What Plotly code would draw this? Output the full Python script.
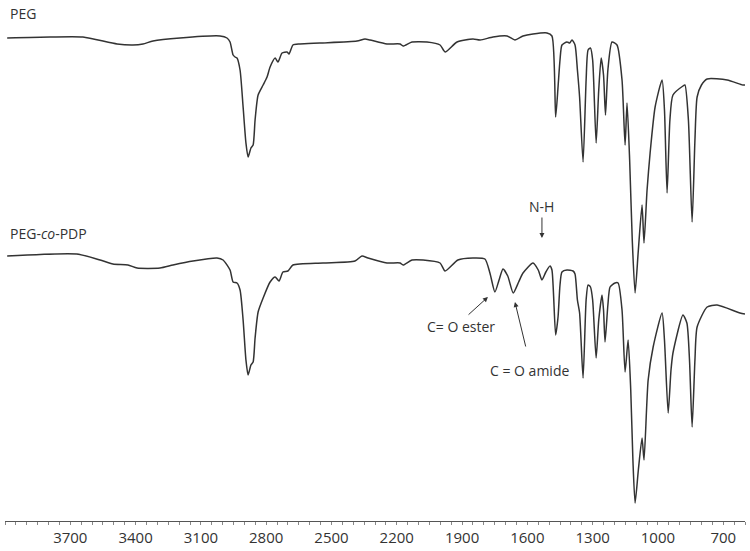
import plotly.graph_objects as go

# Wavenumbers (cm-1) and relative transmittance (a.u.)
peg_wn = [3990, 3793, 3642, 3485, 3412, 3366, 3320, 3196, 3012, 2980, 2966, 2952, 2943, 2934, 2920,
          2906, 2893, 2883, 2870, 2860, 2851, 2837, 2814, 2796, 2782, 2759, 2746, 2727, 2704, 2695,
          2677, 2645, 2553, 2383, 2346, 2323, 2245, 2185, 2171, 2130, 2061, 2001, 1978, 1923, 1850,
          1817, 1758, 1693, 1657, 1620, 1574, 1510, 1487, 1470, 1459, 1450, 1441, 1418, 1405, 1395,
          1381, 1370, 1360, 1344, 1330, 1321, 1310, 1300, 1284, 1272, 1261, 1250, 1241, 1230, 1211,
          1188, 1165, 1151, 1142, 1130, 1118, 1105, 1090, 1073, 1064, 1050, 1036, 1013, 981, 970,
          958, 945, 931, 885, 876, 860, 843, 830, 820, 800, 774, 682, 610, 600]
peg_t = [483, 484, 484, 477, 476, 477, 480, 483, 485, 483, 479, 466, 464, 463, 451,
         414, 378, 364, 373, 376, 401, 426, 436, 444, 454, 463, 459, 468, 469, 467,
         476, 477, 478, 480, 482, 481, 477, 477, 475, 479, 479, 476, 469, 479, 482,
         481, 484, 485, 481, 485, 487, 488, 485, 404, 434, 461, 476, 479, 478, 481,
         476, 451, 424, 359, 441, 471, 473, 461, 378, 431, 463, 446, 406, 451, 479,
         476, 441, 376, 418, 361, 281, 228, 271, 316, 278, 331, 368, 414, 441, 411,
         328, 401, 426, 435, 436, 401, 299, 381, 424, 436, 442, 441, 436, 436]

pdp_wn = [3990, 3670, 3563, 3504, 3435, 3393, 3288, 3228, 3136, 3026, 2998, 2966, 2952, 2934, 2920,
          2906, 2893, 2883, 2870, 2860, 2851, 2837, 2814, 2782, 2759, 2741, 2723, 2700, 2677, 2539,
          2392, 2360, 2332, 2245, 2185, 2171, 2130, 2079, 2001, 1978, 1919, 1850, 1795, 1772, 1749,
          1730, 1712, 1690, 1665, 1640, 1620, 1574, 1550, 1533, 1515, 1496, 1487, 1470, 1459, 1450,
          1441, 1418, 1390, 1381, 1370, 1360, 1344, 1330, 1321, 1310, 1300, 1284, 1272, 1257, 1250,
          1243, 1230, 1220, 1197, 1183, 1165, 1151, 1137, 1125, 1115, 1105, 1090, 1073, 1064, 1045,
          1022, 981, 970, 953, 940, 931, 885, 867, 855, 843, 830, 820, 774, 728, 623, 600]
pdp_t = [265, 267, 261, 257, 256, 253, 253, 256, 260, 263, 261, 251, 239, 238, 231,
         201, 161, 146, 156, 159, 183, 209, 223, 239, 244, 240, 249, 250, 256, 258,
         260, 265, 263, 258, 258, 256, 261, 261, 258, 250, 261, 263, 262, 248, 229,
         241, 252, 245, 228, 239, 248, 258, 251, 241, 249, 255, 251, 186, 204, 236,
         249, 251, 250, 247, 221, 208, 143, 221, 236, 234, 221, 163, 201, 226, 211,
         179, 216, 234, 238, 238, 211, 149, 181, 131, 61, 18, 51, 83, 61, 141,
         174, 208, 181, 108, 151, 168, 206, 198, 161, 94, 161, 194, 214, 216, 208, 207]

tick_vals = list(range(600, 4001, 50))
label_vals = [3700, 3400, 3100, 2800, 2500, 2200, 1900, 1600, 1300, 1000, 700]

LINE = "#333333"
FONT = "Open Sans"

fig = go.Figure()
fig.add_trace(go.Scatter(x=peg_wn, y=peg_t, mode="lines", name="PEG",
                         line=dict(color=LINE, width=1.5, shape="spline", smoothing=0.6)))
fig.add_trace(go.Scatter(x=pdp_wn, y=pdp_t, mode="lines", name="PEG-co-PDP",
                         line=dict(color=LINE, width=1.5, shape="spline", smoothing=0.6)))

fig.update_layout(
    width=750, height=551,
    margin=dict(l=5, r=5, t=0, b=30),
    paper_bgcolor="white", plot_bgcolor="white",
    showlegend=False,
    font=dict(family=FONT, size=14, color="#333"),
    xaxis=dict(range=[4000, 600], showgrid=False, zeroline=False,
               showline=True, linecolor="#555", linewidth=1,
               tickmode="array", tickvals=tick_vals,
               ticktext=[str(v) if v in label_vals else "" for v in tick_vals],
               ticks="outside", ticklen=3, tickcolor="#888", tickwidth=1,
               tickfont=dict(family=FONT, size=15, color="#333")),
    yaxis=dict(range=[0, 521], visible=False, fixedrange=True),
)

ann = [
    dict(x=3986, y=508, text="PEG", xanchor="left"),
    dict(x=3986, y=288, text="PEG-<i>co</i>-PDP", xanchor="left"),
    dict(x=1535, y=315, text="N-H", xanchor="center"),
    dict(x=1905, y=195, text="C= O ester", xanchor="center"),
    dict(x=1592, y=151, text="C = O amide", xanchor="center"),
]
for a in ann:
    fig.add_annotation(xref="x", yref="y", showarrow=False, yanchor="middle",
                       font=dict(family=FONT, size=14, color="#333"), **a)

arrows = [
    (1533, 283, 1533, 305),
    (1781, 224, 1877, 205),
    (1657, 219, 1606, 173),
]
for hx, hy, tx, ty in arrows:
    fig.add_annotation(x=hx, y=hy, ax=tx, ay=ty, xref="x", yref="y", axref="x", ayref="y",
                       text="", showarrow=True, arrowhead=2, arrowsize=1, arrowwidth=1,
                       arrowcolor="#333")

fig.write_html("out.html",
               config={"displayModeBar": False, "staticPlot": True},
               post_script="document.body.style.margin='0';document.body.style.overflow='hidden';")
